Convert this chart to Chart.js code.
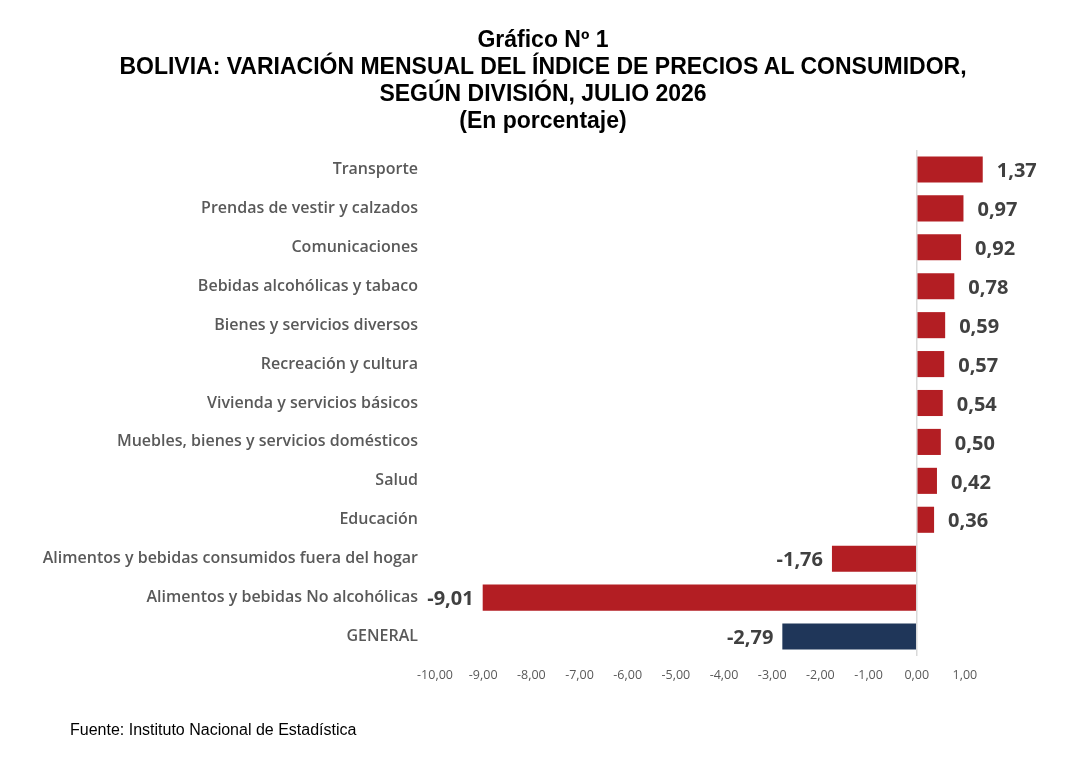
<!DOCTYPE html>
<html lang="es">
<head>
<meta charset="utf-8">
<title>Gráfico Nº 1</title>
<script src="https://cdn.jsdelivr.net/npm/chart.js@4.4.1/dist/chart.umd.min.js"></script>
<style>
  body { margin: 0; background: #fff; }
  #wrap { position: relative; width: 1086px; height: 761px; }
  #title {
    position: absolute; left: 0; top: 26px; width: 1086px;
    text-align: center; font: bold 23px "Liberation Sans", Arial, sans-serif;
    line-height: 27px; color: #000;
  }
  #source {
    position: absolute; left: 70px; top: 721px;
    font: 16px "Liberation Sans", Arial, sans-serif; color: #000;
  }
  canvas { position: absolute; left: 0; top: 0; }
</style>
</head>
<body>
<div id="wrap">
  <canvas id="chart" width="1086" height="761"></canvas>
  <div id="title">
    Gráfico Nº 1<br>
    BOLIVIA: VARIACIÓN MENSUAL DEL ÍNDICE DE PRECIOS AL CONSUMIDOR,<br>
    SEGÚN DIVISIÓN, JULIO 2026<br>
    (En porcentaje)
  </div>
  <div id="source">Fuente: Instituto Nacional de Estadística</div>
</div>
<script>
"use strict";

// ---------------- DATA ----------------
const divisions = [
  "Transporte",
  "Prendas de vestir y calzados",
  "Comunicaciones",
  "Bebidas alcohólicas y tabaco",
  "Bienes y servicios diversos",
  "Recreación y cultura",
  "Vivienda y servicios básicos",
  "Muebles, bienes y servicios domésticos",
  "Salud",
  "Educación",
  "Alimentos y bebidas consumidos fuera del hogar",
  "Alimentos y bebidas No alcohólicas",
  "GENERAL",
];
const variation = [1.37, 0.97, 0.92, 0.78, 0.59, 0.57, 0.54, 0.5, 0.42, 0.36, -1.76, -9.01, -2.79];
const tickValues = [-10, -9, -8, -7, -6, -5, -4, -3, -2, -1, 0, 1];

const RED = "#B31E23";
const NAVY = "#1F3659";
const fmt = (v) => v.toFixed(2).replace(".", ",");

// ---------------- VALUE LABELS ----------------
const valueLabels = {
  id: "valueLabels",
  afterDatasetsDraw(chart) {
    const { ctx } = chart;
    const meta = chart.getDatasetMeta(0);
    ctx.save();
    ctx.font = "bold 20px 'Open Sans', sans-serif";
    ctx.fillStyle = "#404040";
    ctx.textBaseline = "middle";
    meta.data.forEach((bar, i) => {
      const v = variation[i];
      if (v >= 0) {
        ctx.textAlign = "left";
        ctx.fillText(fmt(v), bar.x + 14, bar.y + 2);
      } else {
        ctx.textAlign = "right";
        ctx.fillText(fmt(v), bar.x - 9, bar.y + 2);
      }
    });
    ctx.restore();
  },
};

new Chart(document.getElementById("chart"), {
  type: "bar",
  data: {
    labels: divisions,
    datasets: [
      {
        data: variation,
        backgroundColor: divisions.map((d) => (d === "GENERAL" ? NAVY : RED)),
        barPercentage: 0.67,
        categoryPercentage: 1,
      },
    ],
  },
  options: {
    indexAxis: "y",
    responsive: false,
    animation: false,
    devicePixelRatio: 1,
    layout: { padding: { top: 150, right: 97, bottom: 75, left: 0 } },
    plugins: {
      legend: { display: false },
      tooltip: { enabled: false },
    },
    scales: {
      x: {
        min: -10,
        max: 1.5,
        afterBuildTicks: (scale) => {
          scale.ticks = tickValues.map((v) => ({ value: v }));
        },
        afterFit: (scale) => {
          scale.height = 30;
        },
        border: { display: false },
        grid: {
          drawTicks: false,
          color: (c) => (c.tick && c.tick.value === 0 ? "#D9D9D9" : "rgba(0,0,0,0)"),
          lineWidth: 1.5,
        },
        ticks: {
          padding: 12,
          color: "#595959",
          font: { family: "'Open Sans', sans-serif", size: 12.5 },
          callback: (v) => fmt(v),
          autoSkip: false,
          maxRotation: 0,
        },
      },
      y: {
        afterFit: (scale) => {
          scale.width = 435;
        },
        border: { display: false },
        grid: { display: false, drawTicks: false },
        ticks: {
          padding: 17,
          color: "#595959",
          font: { family: "'Open Sans', sans-serif", size: 16, weight: "600" },
          autoSkip: false,
        },
      },
    },
  },
  plugins: [valueLabels],
});
</script>
</body>
</html>
